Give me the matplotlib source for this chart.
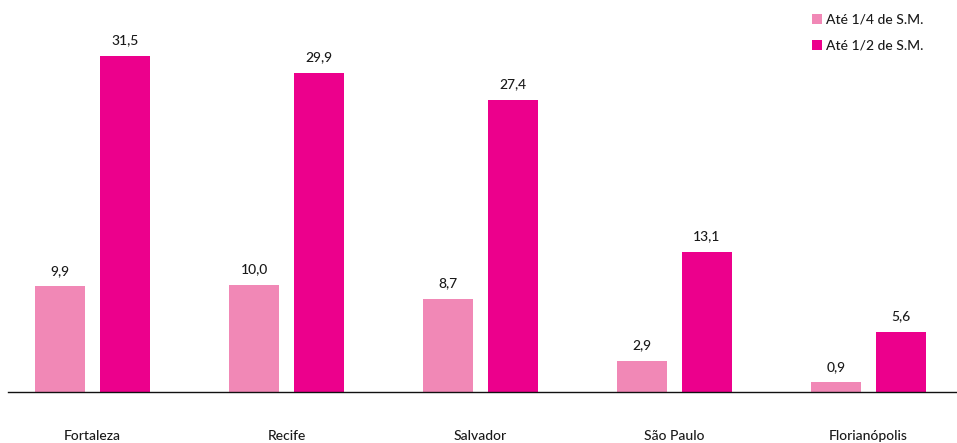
import matplotlib
matplotlib.use("Agg")
import matplotlib.pyplot as plt
import numpy as np

cidades = ["Fortaleza", "Recife", "Salvador", "São Paulo", "Florianópolis"]
ate_quarto = [9.9, 10.0, 8.7, 2.9, 0.9]
ate_meio = [31.5, 29.9, 27.4, 13.1, 5.6]
series_labels = ["Até 1/4 de S.M.", "Até 1/2 de S.M."]

cor_claro = "#F188B6"
cor_escuro = "#EC008C"
cor_texto = "#1a1a1a"

plt.rcParams["font.family"] = ["Lato", "DejaVu Sans"]

fig = plt.figure(figsize=(9.57, 4.43), dpi=100)
ax = fig.add_axes([8 / 957, 51 / 443, 949 / 957, 392 / 443])

x = np.arange(len(cidades))
w = 0.258
off = 0.1675
b1 = ax.bar(x - off, ate_quarto, w, color=cor_claro, label=series_labels[0])
b2 = ax.bar(x + off, ate_meio, w, color=cor_escuro, label=series_labels[1])

fmt = lambda v: f"{v:.1f}".replace(".", ",")
for bars, vals in ((b1, ate_quarto), (b2, ate_meio)):
    for r, v in zip(bars, vals):
        ax.annotate(fmt(v), (r.get_x() + r.get_width() / 2, v), xytext=(0, 7),
                    textcoords="offset points", ha="center", va="bottom",
                    fontsize=10, color=cor_texto, fontweight="medium")

ax.set_xlim(-0.4356, 4.456)
ax.set_ylim(0, 36.74)
for s in ("top", "right", "left"):
    ax.spines[s].set_visible(False)
ax.spines["bottom"].set_color("#111111")
ax.spines["bottom"].set_linewidth(1.0)
ax.set_yticks([])
ax.set_xticks(x)
ax.set_xticklabels(cidades, fontsize=10, color=cor_texto, fontweight="medium")
ax.tick_params(axis="x", length=0, pad=27)

leg = ax.legend(loc="upper right", bbox_to_anchor=(1 - 24 / 949, 1 - 4 / 392),
                frameon=False, fontsize=10, handlelength=0.7, handleheight=0.7,
                handletextpad=0.3, labelspacing=1.0, borderaxespad=0.3)
for t in leg.get_texts():
    t.set_color(cor_texto)
    t.set_fontweight("medium")

fig.savefig("out.png", dpi=100)
